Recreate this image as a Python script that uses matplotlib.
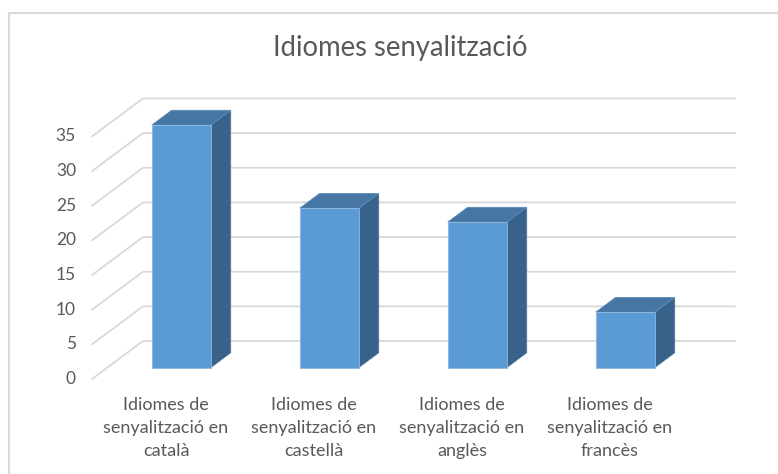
import matplotlib
matplotlib.use('Agg')
import matplotlib.pyplot as plt
from matplotlib.patches import Polygon, Rectangle

# dades
categories = ['Idiomes de\nsenyalització en\ncatalà',
              'Idiomes de\nsenyalització en\ncastellà',
              'Idiomes de\nsenyalització en\nanglès',
              'Idiomes de\nsenyalització en\nfrancès']
values = [35, 23, 21, 8]
yticks = [0, 5, 10, 15, 20, 25, 30, 35]
title = 'Idiomes senyalització'

plt.rcParams['font.family'] = ['Lato', 'DejaVu Sans']
text_color = '#595959'
grid_color = '#D9D9D9'
c_front, c_top, c_side = '#5B9BD5', '#4676A3', '#38628A'

W, H = 778, 474
fig = plt.figure(figsize=(W / 100, H / 100), dpi=100)
ax = fig.add_axes([0, 0, 1, 1])
ax.axis('off')

# escala: 148 px per categoria, 6.93 px per unitat
px_x, px_y = 148, 6.93
x0_px, y0_px = 92, H - 379
ax.set_xlim(-x0_px / px_x, (W - x0_px) / px_x)
ax.set_ylim(-y0_px / px_y, (H - y0_px) / px_y)

# profunditat obliqua
DX = 51 / px_x
DY = 38 / px_y


def proj(x, v, d):
    return (x + d * DX, v + d * DY)


n = len(values)
# parets: línies de quadrícula
for t in yticks:
    a = proj(0, t, 0)
    b = proj(0, t, 1)
    c = proj(n, t, 1)
    ax.plot([a[0], b[0], c[0]], [a[1], b[1], c[1]], color=grid_color, lw=1.3, zorder=1)
    ax.text(-16 / px_x, t, str(t), ha='right', va='center', fontsize=12.5, color=text_color)

# barres
w = 0.4
d0, d1 = 0.30, 0.69
for i, v in enumerate(values):
    xl = i + 0.5 - w / 2
    xr = i + 0.5 + w / 2
    side = [proj(xr, 0, d0), proj(xr, 0, d1), proj(xr, v, d1), proj(xr, v, d0)]
    top = [proj(xl, v, d0), proj(xr, v, d0), proj(xr, v, d1), proj(xl, v, d1)]
    front = [proj(xl, 0, d0), proj(xr, 0, d0), proj(xr, v, d0), proj(xl, v, d0)]
    ax.add_patch(Polygon(side, closed=True, fc=c_side, ec='#5A82A8', lw=0.5, zorder=3))
    ax.add_patch(Polygon(top, closed=True, fc=c_top, ec='#5E8DBA', lw=0.5, zorder=3))
    ax.add_patch(Polygon(front, closed=True, fc=c_front, ec='#8DB8E2', lw=0.6, zorder=4))

# etiquetes de categoria
for i, lab in enumerate(categories):
    ax.text(i + 0.5, -18 / px_y, lab, ha='center', va='top', fontsize=13,
            color=text_color, linespacing=1.55)

fig.text(400 / W, 1 - 48 / H, title, ha='center', va='center', fontsize=19.8, color=text_color)

# marc del gràfic
fig.add_artist(Rectangle((8.5 / W, -0.05), 1.2, 1 - 12.5 / H + 0.05, transform=fig.transFigure,
                         fill=False, ec=grid_color, lw=1.5))

fig.savefig('out.png', dpi=100)
